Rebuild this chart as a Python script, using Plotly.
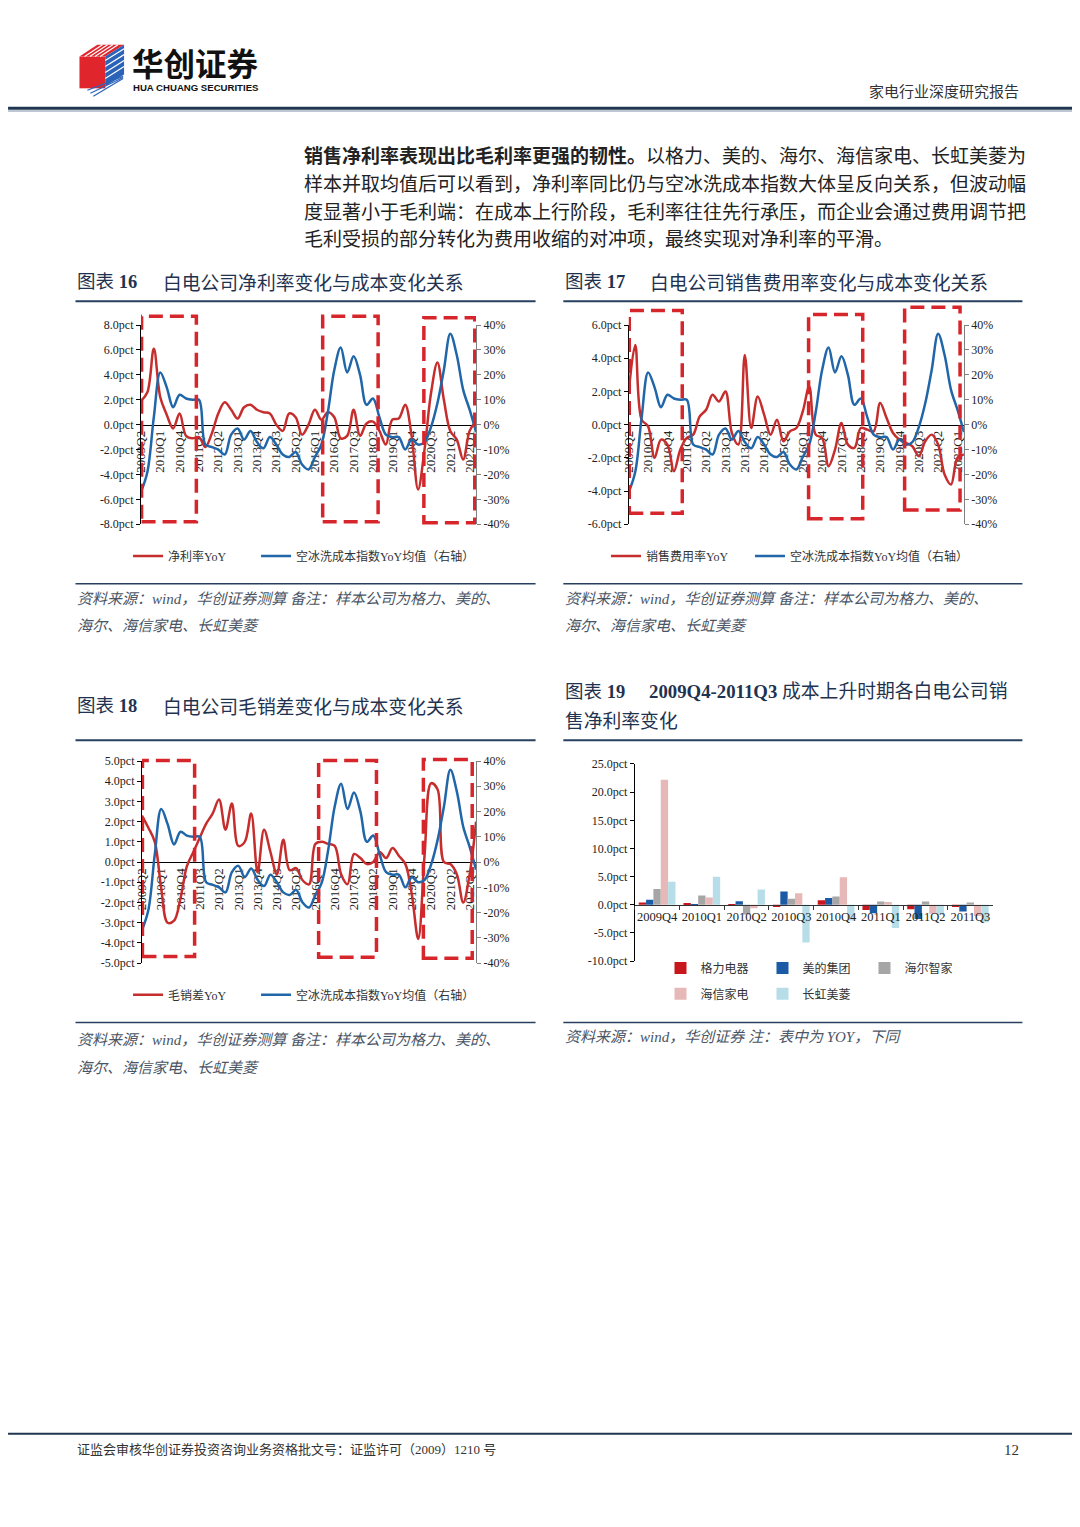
import plotly.graph_objects as go

# The page is captured together with the browser's default 8px body margin,
# so the figure is sized to fill the page exactly inside that margin.
PAGE_W, PAGE_H = 1080, 1527
OFF = 8
W, H = PAGE_W - 2 * OFF, PAGE_H - 2 * OFF


def fx(p):
    return (p - OFF) / W


def fy(p):
    return 1 - (p - OFF) / H


SERIF = "Liberation Serif, Noto Sans CJK SC"
CJK = "Noto Sans CJK SC"
NAVY = "#27405f"
RED = "#c62d2d"
BLUE = "#2066a8"
DASH_RED = "#d7262b"

# ---------------- data ----------------
quarters = [f"{2009 + (i + 1) // 4}Q{(i + 1) % 4 + 1}" for i in range(53)]
xtick_labels = ["2009Q2", "2010Q1", "2010Q4", "2011Q3", "2012Q2", "2013Q1", "2013Q4",
                "2014Q3", "2015Q2", "2016Q1", "2016Q4", "2017Q3", "2018Q2", "2019Q1",
                "2019Q4", "2020Q3", "2021Q2", "2022Q1"]

cost_index_yoy = [-27, -19, 3, 21, 15, 7, 12, 10.5, 10, 10,
                  -8, -9, -10, -12, -4, -1.5, -6, -2.5, -7, -9.5,
                  -5, -8, -12, -13, -11, -16, -18, -13, -8, 5,
                  22, 31, 21, 27.5, 20, 8, 10.5, 3, -4, -5,
                  -5, -10, -6, -8, -7, -1, 8.6, 22, 36.5, 28,
                  14, 6, -3]

net_margin_yoy = [1.9, 2.6, 6.1, 2.2, 0.8, -0.3, 0.9, -0.9, -1.1, -1.0,
                  -1.8, -0.7, 0.9, 1.8, 1.2, 0.5, 1.4, 1.6, 1.2, 1.0,
                  0.9, 0.0, -0.5, 0.9, 0.6, -0.8, 0.0, 1.2, 0.4, 1.0,
                  0.6, -1.1, -0.9, 1.2, -0.9, 0.1, 0.25, -0.5, -1.6, 0.4,
                  0.5, 1.6, -0.9, -5.2, -2.0, 2.5, 5.0, 2.0, -0.5, -1.2,
                  -2.8, -0.5, 0.3]

sales_exp_yoy = [2.0, 4.8, 0.3, -0.1, -2.0, -0.9, -1.2, -2.8, -1.5, -0.8,
                 -0.6, 0.5, 0.9, 1.8, 1.4, 2.0, -0.5, -1.2, 4.2, -0.2,
                 1.7, 0.6, -0.6, 0.3, -1.0, -0.4, -0.2, 0.8, 2.3, -0.6,
                 -0.8, -2.5, -1.5, 0.1, -1.2, -1.4, -0.2, -0.3, -0.4, 1.3,
                 0.4, -0.5, -0.9, -1.1, -1.3, -1.9, -1.0, -0.6, -1.2, -3.0,
                 -3.6, -2.0, -1.8]

gross_sales_gap_yoy = [2.3, 1.7, 1.0, -1.3, -3.0, -2.9, -1.8, -0.2, 0.5, 1.2,
                       1.9, 2.4, 3.1, 1.6, 2.9, 0.8, 1.0, 2.4, -0.5, 1.6,
                       0.5, -0.6, 1.1, -0.4, -0.3, -0.9, -1.1, 0.9, 1.0, 0.9,
                       0.8, -0.6, -1.1, 0.4, 0.2, -0.1, 0.0, 0.5, 0.2, 0.7,
                       0.3, -0.1, -1.6, -3.8, 0.4, 3.9, 3.6, 0.0, -0.1, -0.6,
                       -2.0, -0.6, 2.0]

bar_periods = ["2009Q4", "2010Q1", "2010Q2", "2010Q3", "2010Q4", "2011Q1", "2011Q2", "2011Q3"]
companies = ["格力电器", "美的集团", "海尔智家", "海信家电", "长虹美菱"]
gree = [0.4, 0.2, 0.05, -0.4, 0.8, -0.9, -0.8, -0.4]
midea = [0.9, -0.2, 0.65, 2.35, 1.2, -1.5, -2.5, -1.2]
haier = [2.8, 1.65, -1.7, 1.1, 1.5, 0.6, 0.6, 0.4]
hisense = [22.2, 1.3, -0.6, 2.05, 4.9, 0.5, -1.6, -2.0]
meiling = [4.1, 5.0, 2.7, -6.7, -2.8, -4.1, -1.8, -3.1]
company_values = [gree, midea, haier, hisense, meiling]
company_colors = ["#c8161d", "#1b5ba6", "#a6a6a6", "#e6b9b8", "#b7dee8"]

y16_ticks = [-8, -6, -4, -2, 0, 2, 4, 6, 8]
y17_ticks = [-6, -4, -2, 0, 2, 4, 6]
y18_ticks = [-5, -4, -3, -2, -1, 0, 1, 2, 3, 4, 5]
pct_ticks = [-40, -30, -20, -10, 0, 10, 20, 30, 40]
y19_ticks = [-10, -5, 0, 5, 10, 15, 20, 25]

# highlight boxes: (x0, x1) in quarter index, (y0, y1) in axis-domain fraction
RECTS16 = [(0.1, 8.6, 0.012, 1.045), (28.2, 36.8, 0.012, 1.045), (43.9, 51.8, 0.008, 1.037)]
RECTS17 = [(0.08, 8.3, 0.055, 1.073), (27.9, 36.3, 0.028, 1.053), (42.8, 51.4, 0.071, 1.09)]
RECTS18 = [(0.08, 8.2, 0.033, 1.003), (27.5, 36.5, 0.029, 1.003), (43.8, 51.4, 0.024, 1.008)]

fig = go.Figure()
shapes = []
annotations = []
layout = {}


def axkey(ref):
    return ("xaxis" if ref[0] == "x" else "yaxis") + ref[1:]


line_charts = [
    dict(xa="x", yl="y", yr="y2", dx=(134, 472), dy=(321, 522), red=net_margin_yoy,
         red_name="净利率YoY", yt=y16_ticks, leg="legend", rects=RECTS16,
         leg_x=121, leg_y=554, ew=83),
    dict(xa="x2", yl="y3", yr="y4", dx=(626, 964), dy=(321, 522), red=sales_exp_yoy,
         red_name="销售费用率YoY", yt=y17_ticks, leg="legend2", rects=RECTS17,
         leg_x=603, leg_y=554, ew=99),
    dict(xa="x3", yl="y5", yr="y6", dx=(135, 472), dy=(761, 965), red=gross_sales_gap_yoy,
         red_name="毛销差YoY", yt=y18_ticks, leg="legend3", rects=RECTS18,
         leg_x=121, leg_y=997, ew=83),
]

for c in line_charts:
    fig.add_trace(go.Scatter(x=quarters, y=c["red"], mode="lines", name=c["red_name"],
                             line=dict(color=RED, width=2.5, shape="spline"),
                             xaxis=c["xa"], yaxis=c["yl"], legend=c["leg"],
                             legendwidth=c["ew"]))
    fig.add_trace(go.Scatter(x=quarters, y=cost_index_yoy, mode="lines",
                             name="空冰洗成本指数YoY均值（右轴）",
                             line=dict(color=BLUE, width=2.5, shape="spline"),
                             xaxis=c["xa"], yaxis=c["yr"], legend=c["leg"]))
    ydom = [fy(c["dy"][1]), fy(c["dy"][0])]
    layout[axkey(c["xa"])] = dict(
        domain=[fx(c["dx"][0]), fx(c["dx"][1])], type="category", range=[0, len(quarters) - 1],
        anchor="free", position=(ydom[0] + ydom[1]) / 2,
        tickmode="array", tickvals=xtick_labels, ticktext=xtick_labels, tickangle=-90,
        tickfont=dict(family=SERIF, size=13, color="#222"),
        showline=True, linecolor="#000", linewidth=1, ticks="", showgrid=False,
        zeroline=False, layer="below traces", fixedrange=True)
    lo, hi = c["yt"][0], c["yt"][-1]
    layout[axkey(c["yl"])] = dict(
        domain=ydom, anchor=c["xa"], range=[lo, hi], tickmode="array", tickvals=c["yt"],
        ticktext=[f"{v:.1f}pct" for v in c["yt"]],
        tickfont=dict(family=SERIF, size=12, color="#222"),
        showline=True, linecolor="#000", linewidth=1, ticks="outside", ticklen=4,
        tickcolor="#000", showgrid=False, zeroline=False)
    layout[axkey(c["yr"])] = dict(
        overlaying=c["yl"], side="right", anchor=c["xa"], range=[-40, 40], tickmode="array",
        tickvals=pct_ticks, ticktext=[f"{v}%" for v in pct_ticks],
        tickfont=dict(family=SERIF, size=12, color="#222"),
        showline=True, linecolor="#808080", linewidth=1, ticks="outside", ticklen=4,
        tickcolor="#808080", showgrid=False, zeroline=False)
    layout[c["leg"]] = dict(
        x=fx(c["leg_x"]), y=fy(c["leg_y"]), xanchor="left", yanchor="middle",
        orientation="h", font=dict(family=SERIF, size=12, color="#333"),
        bgcolor="rgba(0,0,0,0)", traceorder="normal")
    for (x0, x1, y0, y1) in c["rects"]:
        shapes.append(dict(type="rect", xref=c["xa"], yref=c["yl"] + " domain",
                           x0=x0, x1=x1, y0=y0, y1=y1, layer="above",
                           line=dict(color=DASH_RED, width=3.5, dash="14px,7px"),
                           fillcolor="rgba(0,0,0,0)"))

# ---------------- bar chart (图表19) ----------------
for k, (name, vals, col) in enumerate(zip(companies, company_values, company_colors)):
    fig.add_trace(go.Bar(x=bar_periods, y=vals, name=name, marker=dict(color=col, line=dict(width=0)),
                         xaxis="x4", yaxis="y7", legend="legend4" if k < 3 else "legend5",
                         legendwidth=57))

y19_dom = [fy(963), fy(764)]
zero_pos = y19_dom[0] + (0 - y19_ticks[0]) / (y19_ticks[-1] - y19_ticks[0]) * (y19_dom[1] - y19_dom[0])
layout["xaxis4"] = dict(domain=[fx(632), fx(993)], type="category", anchor="free", position=zero_pos,
                        tickangle=0, tickfont=dict(family=SERIF, size=12.5, color="#222"),
                        showline=True, linecolor="#333", linewidth=1, ticks="outside",
                        tickson="boundaries", ticklen=4, tickcolor="#333", showgrid=False,
                        zeroline=False, layer="above traces")
layout["yaxis7"] = dict(domain=y19_dom, anchor="x4", range=[y19_ticks[0], y19_ticks[-1]],
                        tickmode="array", tickvals=y19_ticks,
                        ticktext=[f"{v:.1f}pct" for v in y19_ticks],
                        tickfont=dict(family=SERIF, size=12, color="#222"),
                        showline=True, linecolor="#000", linewidth=1, ticks="outside",
                        ticklen=4, tickcolor="#000", showgrid=False, zeroline=False)
for lg, yy in (("legend4", 970), ("legend5", 996)):
    layout[lg] = dict(x=fx(658), y=fy(yy), xanchor="left", yanchor="middle", orientation="h",
                      font=dict(family=SERIF, size=12, color="#333"),
                      bgcolor="rgba(0,0,0,0)", traceorder="normal")


# ---------------- page decoration ----------------
def hline(x0, x1, y, color=NAVY, width=2):
    shapes.append(dict(type="line", xref="paper", yref="paper", x0=fx(x0), x1=fx(x1),
                       y0=fy(y), y1=fy(y), line=dict(color=color, width=width)))


def poly(points, color, line_color=None, lw=0):
    d = "M" + " L".join(f"{fx(a):.5f},{fy(b):.5f}" for a, b in points) + " Z"
    shapes.append(dict(type="path", xref="paper", yref="paper", path=d, fillcolor=color,
                       line=dict(color=line_color or color, width=lw)))


def seg(p0, p1, color, width):
    shapes.append(dict(type="line", xref="paper", yref="paper", x0=fx(p0[0]), y0=fy(p0[1]),
                       x1=fx(p1[0]), y1=fy(p1[1]), line=dict(color=color, width=width)))


# logo cube
poly([(72, 50), (98, 50), (98, 82), (72, 82)], "#e0262c")
poly([(72, 50), (90, 38), (117, 38), (98, 50)], "#e0262c")
poly([(98, 50), (117, 38), (117, 68), (98, 80)], "#2b63b8")
for t in range(1, 5):
    a = 72 + t * 5.2
    seg((a, 50), (a + 18, 38), "white", 1.2)
for t in range(1, 5):
    yy = 44 + t * 6
    seg((98, yy + 4), (117, yy - 8), "white", 1.2)
for t in range(0, 3):
    yy = 84 + t * 3
    seg((80 + t * 3, yy), (116, yy - 14 - t * 2), "#2b63b8", 1.2)

hline(0, 1080, 102, color="#1f3550", width=3)
hline(0, 1080, 105, color="#a9b6c4", width=1.5)
hline(68, 532, 297)
hline(560, 1023, 297)
hline(68, 532, 582, width=1.5)
hline(560, 1023, 582, width=1.5)
hline(68, 532, 740)
hline(560, 1023, 740)
hline(68, 532, 1025, width=1.5)
hline(560, 1023, 1025, width=1.5)
hline(0, 1080, 1440, color="#1f3550", width=2)


def text(x, y, s, size, color="#222", family=CJK, anchor="left", style="normal", weight="normal"):
    annotations.append(dict(x=fx(x), y=fy(y), xref="paper", yref="paper", text=s,
                            showarrow=False, xanchor=anchor, yanchor="middle",
                            font=dict(family=family, size=size, color=color, style=style,
                                      weight=weight)))


text(123, 55, "华创证券", 31.5, color="#111", weight="bold")
text(124, 81.5, "HUA CHUANG SECURITIES", 9.6, color="#111", family="Liberation Sans", weight="bold")
text(1022, 84, "家电行业深度研究报告", 15, color="#333", anchor="right")

para = [
    "<b>销售净利率表现出比毛利率更强的韧性。</b>以格力、美的、海尔、海信家电、长虹美菱为",
    "样本并取均值后可以看到，净利率同比仍与空冰洗成本指数大体呈反向关系，但波动幅",
    "度显著小于毛利端：在成本上行阶段，毛利率往往先行承压，而企业会通过费用调节把",
    "毛利受损的部分转化为费用收缩的对冲项，最终实现对净利率的平滑。",
]
for i, s in enumerate(para):
    text(296, 149 + 28 * i, s, 19, color="#222")

TITLE_C = "#1f3350"
text(68, 277, "图表 <b>16</b>", 18.5, color=TITLE_C, family=SERIF)
text(154, 277, "白电公司净利率变化与成本变化关系", 18.8, color=TITLE_C)
text(560, 277, "图表 <b>17</b>", 18.5, color=TITLE_C, family=SERIF)
text(645, 277, "白电公司销售费用率变化与成本变化关系", 18.8, color=TITLE_C)
text(68, 705, "图表 <b>18</b>", 18.5, color=TITLE_C, family=SERIF)
text(154, 705, "白电公司毛销差变化与成本变化关系", 18.8, color=TITLE_C)
text(560, 691, "图表 <b>19</b>", 18.5, color=TITLE_C, family=SERIF)
text(644, 691, "<b>2009Q4-2011Q3</b> 成本上升时期各白电公司销", 18.8, color=TITLE_C, family=SERIF)
text(560, 719, "售净利率变化", 18.8, color=TITLE_C)

SRC_C = "#4a5566"
src1 = "资料来源：wind，华创证券测算 备注：样本公司为格力、美的、"
src2 = "海尔、海信家电、长虹美菱"
text(68, 597, src1, 15, color=SRC_C, family=SERIF, style="italic")
text(68, 625, src2, 15, color=SRC_C, family=SERIF, style="italic")
text(560, 597, src1, 15, color=SRC_C, family=SERIF, style="italic")
text(560, 625, src2, 15, color=SRC_C, family=SERIF, style="italic")
text(68, 1043, src1, 15, color=SRC_C, family=SERIF, style="italic")
text(68, 1071, src2, 15, color=SRC_C, family=SERIF, style="italic")
text(560, 1040, "资料来源：wind，华创证券 注：表中为 YOY，下同", 15, color=SRC_C, family=SERIF,
     style="italic")

text(68, 1456, "证监会审核华创证券投资咨询业务资格批文号：证监许可（2009）1210 号", 13,
     color="#333", family=SERIF)
text(1022, 1456, "12", 15, color="#333", family=SERIF, anchor="right")

fig.update_layout(
    width=W, height=H, autosize=False, margin=dict(l=0, r=0, t=0, b=0, pad=0),
    paper_bgcolor="white", plot_bgcolor="white", barmode="group", bargap=0.18,
    bargroupgap=0.0, showlegend=True, shapes=shapes, annotations=annotations,
    font=dict(family=SERIF, size=12, color="#222"), hovermode=False, **layout)

fig.write_html("out.html", config={"displayModeBar": False})
